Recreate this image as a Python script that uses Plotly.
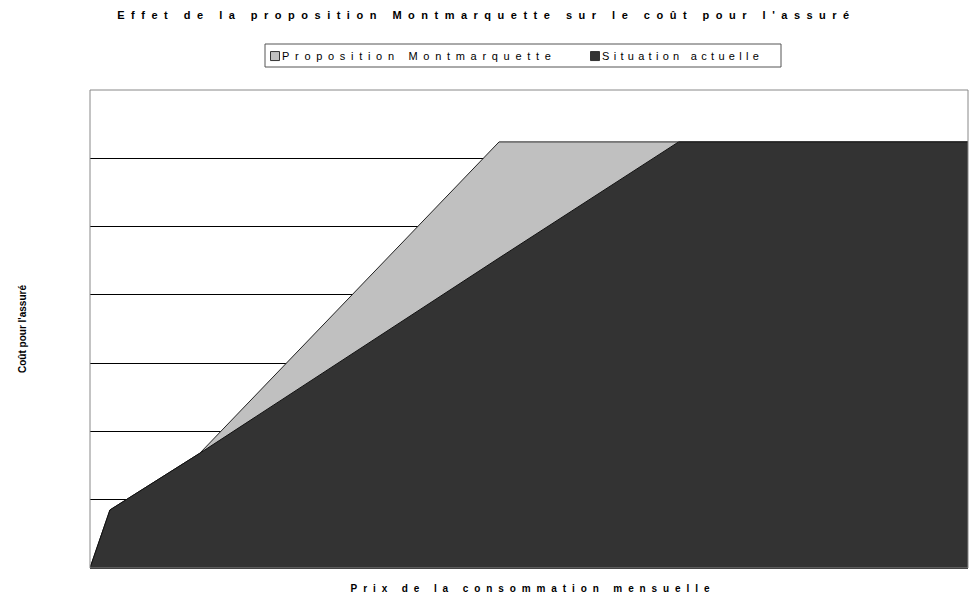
import plotly.graph_objects as go

# Data (x: price of monthly consumption, arbitrary units; y: cost for insured, arbitrary units)
prop_x = [0, 2, 11, 41, 59, 88]
prop_y = [0, 0.85, 1.68, 6.24, 6.24, 6.24]
actu_x = [0, 2, 11, 41, 59, 88]
actu_y = [0, 0.85, 1.68, 4.54, 6.24, 6.24]

names = ["Proposition Montmarquette", "Situation actuelle"]
fills = ["#C0C0C0", "#333333"]

FONT = "Liberation Sans, Arial, sans-serif"

fig = go.Figure()
fig.add_trace(go.Scatter(x=prop_x, y=prop_y, name=names[0], mode="lines",
                         fill="tozeroy", fillcolor=fills[0], showlegend=False,
                         line=dict(color="#222222", width=1)))
fig.add_trace(go.Scatter(x=actu_x, y=actu_y, name=names[1], mode="lines",
                         fill="tozeroy", fillcolor=fills[1], showlegend=False,
                         line=dict(color="#111111", width=1)))
# legend entries with square swatches
for n, c in zip(names, fills):
    fig.add_trace(go.Scatter(x=[None], y=[None], name=n, mode="markers",
                             marker=dict(symbol="square", size=9, color=c,
                                         line=dict(color="#333333", width=1))))

fig.update_layout(
    width=973, height=601,
    margin=dict(l=90, r=5, t=90, b=33),
    paper_bgcolor="white", plot_bgcolor="white",
    font=dict(family=FONT, color="black", size=10),
    title=dict(text="<b>Effet de la proposition Montmarquette sur le coût pour l'assuré</b>",
               x=0.5, xanchor="center", y=1 - 15 / 601, yanchor="middle",
               font=dict(size=11, family=FONT)),
    showlegend=True,
    legend=dict(orientation="h", x=(242 - 90) / 878, xanchor="left",
                y=1.071, yanchor="middle",
                borderwidth=0, bgcolor="rgba(0,0,0,0)",
                font=dict(size=11, family=FONT), itemwidth=30,
                entrywidth=275, entrywidthmode="pixels"),
    xaxis=dict(range=[0, 88], showgrid=False, zeroline=False, showticklabels=False,
               ticks="", showline=True, linecolor="black", linewidth=1,
               title=dict(text="<b>Prix de la consommation mensuelle</b>",
                          font=dict(size=10, family=FONT), standoff=16)),
    yaxis=dict(range=[0, 7], dtick=1, tick0=0, showgrid=True, gridcolor="black",
               gridwidth=1, zeroline=False, showticklabels=False, ticks="",
               showline=False,
               title=dict(text="<b>Coût pour l'assuré</b>",
                          font=dict(size=10, family=FONT), standoff=60)),
    shapes=[
        dict(type="rect", xref="paper", yref="paper", x0=0, x1=1, y0=0, y1=1,
             line=dict(color="#888888", width=1), layer="above"),
        # legend frame
        dict(type="rect", xref="paper", yref="paper",
             x0=(265 - 90) / 878, x1=(781 - 90) / 878,
             y0=(568 - 67) / 478, y1=(568 - 44) / 478,
             line=dict(color="#555555", width=1), fillcolor="white", layer="below"),
    ],
)

post = """
var gd = document.getElementById('{plot_id}');
function ls(sel, v){ gd.querySelectorAll(sel).forEach(function(e){ e.style.letterSpacing = v; }); }
ls('.gtitle', '6.5px'); ls('.xtitle', '5.9px');
var lt = gd.querySelectorAll('.legendtext');
if (lt.length > 0) lt[0].style.letterSpacing = '5.7px';
if (lt.length > 1) lt[1].style.letterSpacing = '4.3px';
gd.querySelectorAll('.legendsymbols').forEach(function(e){ e.style.transform = 'translateX(13px)'; });
var xt = gd.querySelectorAll('.xtitle');
xt.forEach(function(e){ e.style.transform = 'translateX(4px)'; });
"""

fig.write_html("out.html", post_script=post)
